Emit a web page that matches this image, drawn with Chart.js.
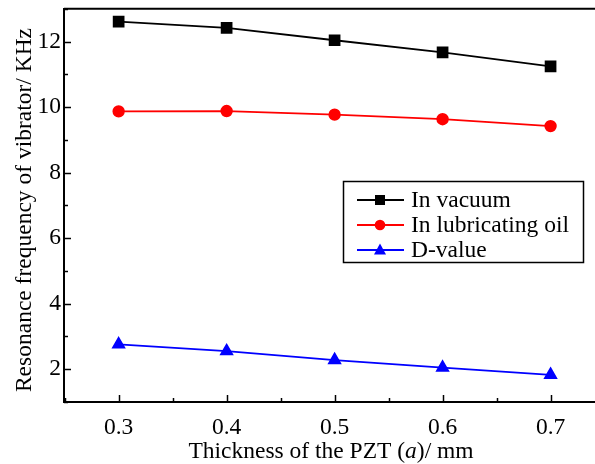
<!DOCTYPE html>
<html><head><meta charset="utf-8">
<script src="https://cdn.jsdelivr.net/npm/chart.js@4/dist/chart.umd.min.js"></script>
<style>html,body{margin:0;padding:0;overflow:hidden;background:#fff;width:595px;height:464px}
canvas{display:block}</style>
</head><body><canvas id="c" width="595" height="464" style="width:595px;height:464px"></canvas>
<script>
const thickness = [0.3, 0.4, 0.5, 0.6, 0.7];
const vacuum = [12.61, 12.42, 12.04, 11.67, 11.24];
const oil = [9.87, 9.88, 9.77, 9.63, 9.42];
const dValue = [2.76, 2.55, 2.28, 2.05, 1.83];
const seriesNames = ['In vacuum', 'In lubricating oil', 'D-value'];
const yTickValues = [2, 4, 6, 8, 10, 12];
const yTitle = 'Resonance frequency of vibrator/ KHz';
const xTitleParts = [['Thickness of the PZT (', false], ['a', true], [')/ mm', false]];

const FONT = '"Liberation Serif", "Times New Roman", serif';

function pts(vals){ return thickness.map((x,i)=>({x:x,y:vals[i]})); }

const decor = {
  id:'decor',
  afterDraw(chart){
    const ctx = chart.ctx, a = chart.chartArea, xs = chart.scales.x, ys = chart.scales.y;
    ctx.save();
    ctx.strokeStyle = '#000'; ctx.lineWidth = 2;
    ctx.beginPath(); ctx.moveTo(a.left, a.top); ctx.lineTo(chart.width, a.top); ctx.stroke();
    ctx.beginPath(); ctx.moveTo(a.right, a.bottom); ctx.lineTo(chart.width, a.bottom); ctx.stroke();
    ctx.lineWidth = 1.5;
    for (let v = 1; v <= 13; v++) {
      const y = Math.round(ys.getPixelForValue(v)) + 0.5;
      const len = (v % 2 === 0) ? 7 : 4;
      ctx.beginPath(); ctx.moveTo(a.left, y); ctx.lineTo(a.left + len, y); ctx.stroke();
    }
    for (let k = 5; k <= 14; k++) {
      const v = k / 20;
      const x = Math.round(xs.getPixelForValue(v)) + 0.5;
      const len = (k % 2 === 0) ? 7 : 4;
      ctx.beginPath(); ctx.moveTo(x, a.bottom); ctx.lineTo(x, a.bottom - len); ctx.stroke();
    }
    ctx.fillStyle = '#000';
    ctx.font = '23.5px ' + FONT;
    ctx.textAlign = 'center'; ctx.textBaseline = 'middle';
    ctx.save(); ctx.translate(25, 210); ctx.rotate(-Math.PI/2); ctx.fillText(yTitle, 0, 0); ctx.restore();
    let total = 0;
    xTitleParts.forEach(p => { ctx.font = (p[1] ? 'italic ' : '') + '23.5px ' + FONT; total += ctx.measureText(p[0]).width; });
    let xx = 331 - total/2;
    ctx.textAlign = 'left'; ctx.textBaseline = 'middle';
    xTitleParts.forEach(p => { ctx.font = (p[1] ? 'italic ' : '') + '23.5px ' + FONT; ctx.fillText(p[0], xx, 452); xx += ctx.measureText(p[0]).width; });
    const lx = 343, ly = 181, lw = 240, lh = 81;
    ctx.lineWidth = 1.5; ctx.strokeStyle = '#000';
    ctx.fillStyle = '#fff'; ctx.fillRect(lx, ly, lw, lh);
    ctx.strokeRect(lx + 0.5, ly + 0.5, lw, lh);
    chart.data.datasets.forEach((ds, i) => {
      const cy = ly + 19 + i * 25;
      ctx.strokeStyle = ds.borderColor; ctx.lineWidth = 1.8;
      ctx.beginPath(); ctx.moveTo(357, cy); ctx.lineTo(404, cy); ctx.stroke();
      ctx.fillStyle = ds.backgroundColor;
      const cx = 380;
      ctx.beginPath();
      if (ds.pointStyle === 'rect') { ctx.rect(cx-5, cy-5, 10, 10); }
      else if (ds.pointStyle === 'circle') { ctx.arc(cx, cy, 5.3, 0, Math.PI*2); }
      else { ctx.moveTo(cx, cy-6.5); ctx.lineTo(cx+6, cy+4.5); ctx.lineTo(cx-6, cy+4.5); ctx.closePath(); }
      ctx.fill();
      ctx.fillStyle = '#000'; ctx.font = '23.5px ' + FONT; ctx.textAlign = 'left'; ctx.textBaseline = 'middle';
      ctx.fillText(ds.label, 411, cy + 1);
    });
    ctx.restore();
  }
};

function zeroPad(s){ s.paddingTop = 0; s.paddingBottom = 0; s.paddingLeft = 0; s.paddingRight = 0; }

new Chart(document.getElementById('c'), {
  type: 'line',
  data: { datasets: [
    { label: seriesNames[0], data: pts(vacuum), borderColor: '#000', backgroundColor: '#000', pointStyle: 'rect', pointRadius: 7, borderWidth: 1.8 },
    { label: seriesNames[1], data: pts(oil), borderColor: '#ff0000', backgroundColor: '#ff0000', pointStyle: 'circle', pointRadius: 5.3, borderWidth: 1.8 },
    { label: seriesNames[2], data: pts(dValue), borderColor: '#0000ff', backgroundColor: '#0000ff', pointStyle: 'triangle', pointRadius: 6.5, borderWidth: 1.8 }
  ]},
  options: {
    responsive: false, animation: false, events: [],
    layout: { padding: { top: 7, right: 0, left: 0, bottom: 0 } },
    plugins: { legend: { display: false }, tooltip: { enabled: false } },
    elements: { point: { borderWidth: 0 }, line: { tension: 0 } },
    scales: {
      x: { type: 'linear', min: 0.2494, max: 0.733,
        afterFit(s){ s.height = 62; zeroPad(s); },
        afterBuildTicks(s){ s.ticks = thickness.map(v => ({ value: v })); },
        grid: { display: true, drawOnChartArea: false, drawTicks: false, color: 'rgba(0,0,0,0)' },
        border: { display: true, color: '#000', width: 2 },
        ticks: { padding: 12, color: '#000', font: { family: FONT, size: 23.5 }, callback: v => v.toFixed(1), maxRotation: 0 }
      },
      y: { type: 'linear', min: 1, max: 13,
        afterFit(s){ s.width = 64; zeroPad(s); },
        afterBuildTicks(s){ s.ticks = yTickValues.map(v => ({ value: v })); },
        grid: { display: true, drawOnChartArea: false, drawTicks: false, color: 'rgba(0,0,0,0)' },
        border: { display: true, color: '#000', width: 2 },
        ticks: { padding: 3, color: '#000', font: { family: FONT, size: 23.5 } }
      }
    }
  },
  plugins: [decor]
});
</script></body></html>
